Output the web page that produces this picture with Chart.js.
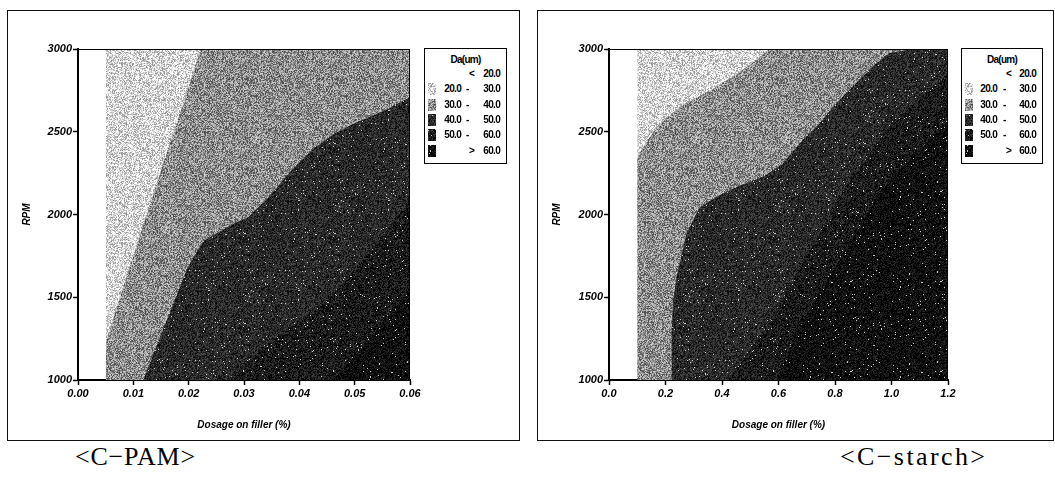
<!DOCTYPE html>
<html><head><meta charset="utf-8">
<script src="https://cdn.jsdelivr.net/npm/chart.js@4.4.0/dist/chart.umd.min.js"></script>
<style>
body{margin:0;width:1055px;height:489px;background:#fff;position:relative;overflow:hidden;font-family:"Liberation Sans",Arial,sans-serif}
.box{position:absolute;border:1.5px solid #111;box-sizing:border-box}
.cv{position:absolute}
.legend{position:absolute;border:1.5px solid #000;box-sizing:border-box;background:#fff;font:bold 10px "Liberation Sans",Arial,sans-serif;letter-spacing:-0.7px;color:#000}
.legend .hd{position:absolute;top:5px;left:0;width:100%;text-align:center}
.legend span{position:absolute;white-space:nowrap}
.legend canvas{position:absolute}
.cap{position:absolute;font:26px "Liberation Serif","DejaVu Serif",serif;color:#000;white-space:nowrap}
</style></head><body>

<div class="box" style="left:7px;top:10px;width:513px;height:431px"></div>
<div class="box" style="left:537px;top:10px;width:517px;height:431px"></div>
<canvas id="c1" class="cv" style="left:8px;top:11px" width="510" height="428"></canvas>
<canvas id="c2" class="cv" style="left:538px;top:11px" width="514" height="428"></canvas>
<div id="leg1" class="legend" style="left:424px;top:48px;width:83px;height:116px"></div>
<div id="leg2" class="legend" style="left:961px;top:48px;width:82px;height:116px"></div>
<div class="cap" style="left:75px;top:442px;letter-spacing:0.8px">&lt;C−PAM&gt;</div>
<div class="cap" style="left:840px;top:442px;letter-spacing:2.4px">&lt;C−starch&gt;</div>

<script>
// ---------- data ----------
const legendTitle = 'Da(um)';
const legendFrom = ['<', '20.0', '30.0', '40.0', '50.0', '>'];
const legendTo   = ['20.0', '30.0', '40.0', '50.0', '60.0', '60.0'];
// mean grey level of each class (0 = black, 255 = white)
const levelGrey = [255, 216, 140, 42, 25, 10];

const yTicks = [1000, 1500, 2000, 2500, 3000];
const yTickLabels = ['1000', '1500', '2000', '2500', '3000'];

// C-PAM
const pamXTicks = [0, 0.01, 0.02, 0.03, 0.04, 0.05, 0.06];
const pamXTickLabels = ['0.00', '0.01', '0.02', '0.03', '0.04', '0.05', '0.06'];
// contour region edges (each class fills the area right of / below its edge)
const pam20X = [0.005, 0.005, 0.06];
const pam20Y = [1000, 3000, 3000];
const pam30X = [0.005, 0.0051, 0.0074, 0.0113, 0.0133, 0.0146, 0.0186, 0.0222, 0.06];
const pam30Y = [1000, 1236, 1479, 1885, 2085, 2224, 2630, 3000, 3000];
const pam40X = [0.0118, 0.0162, 0.0198, 0.0227, 0.0282, 0.0307, 0.0344, 0.0386, 0.0422, 0.0464, 0.05, 0.0555, 0.06];
const pam40Y = [1000, 1376, 1679, 1842, 1945, 1982, 2103, 2267, 2388, 2491, 2552, 2630, 2709];
const pam50X = [0.027, 0.035, 0.045, 0.053, 0.06];
const pam50Y = [1000, 1236, 1479, 1782, 2085];
const pam60X = [0.046, 0.051, 0.057, 0.06];
const pam60Y = [1000, 1176, 1418, 1570];

// C-starch
const stXTicks = [0, 0.2, 0.4, 0.6, 0.8, 1.0, 1.2];
const stXTickLabels = ['0.0', '0.2', '0.4', '0.6', '0.8', '1.0', '1.2'];
const st20X = [0.1, 0.1, 1.2];
const st20Y = [1000, 3000, 3000];
const st30X = [0.1, 0.1, 0.121, 0.168, 0.25, 0.38, 0.474, 0.568, 1.2];
const st30Y = [1000, 2345, 2408, 2529, 2650, 2771, 2873, 3000, 3000];
const st40X = [0.221, 0.221, 0.227, 0.239, 0.274, 0.321, 0.38, 0.45, 0.544, 0.615, 0.685, 0.744, 0.815, 0.873, 0.932, 0.991, 1.073, 1.2];
const st40Y = [1000, 1277, 1479, 1620, 1883, 2044, 2105, 2166, 2226, 2307, 2448, 2549, 2691, 2792, 2893, 2974, 3000, 3000];
const st50X = [0.42, 0.55, 0.7, 0.85, 1.0, 1.2];
const st50Y = [1000, 1300, 1750, 2200, 2550, 2850];
const st60X = [0.592, 0.662, 0.752, 0.942, 1.016, 1.133, 1.2];
const st60Y = [1000, 1279, 1539, 2085, 2250, 2450, 2560];

// ---------- grain textures (deterministic hash) ----------
function makePattern(grey, seed) {
  const N = 90;
  const c = document.createElement('canvas'); c.width = c.height = N;
  const g = c.getContext('2d'); const img = g.createImageData(N, N);
  const amp = grey > 100 ? 70 : 36;
  for (let y = 0; y < N; y++) for (let x = 0; x < N; x++) {
    let h = Math.sin((x + seed) * 12.9898 + (y + seed * 3) * 78.233) * 43758.5453;
    h = h - Math.floor(h);
    let v = grey + (h - 0.5) * amp * 2;
    if (grey < 100 && h > 0.985) v = 200;
    v = Math.max(0, Math.min(255, v));
    const i = (y * N + x) * 4;
    img.data[i] = img.data[i + 1] = img.data[i + 2] = v; img.data[i + 3] = 255;
  }
  g.putImageData(img, 0, 0);
  return document.createElement('canvas').getContext('2d').createPattern(c, 'repeat');
}
const patterns = levelGrey.map((v, i) => v === 255 ? '#fff' : makePattern(v, i * 7 + 1));

function pts(xs, ys) { return xs.map((x, i) => ({x: x, y: ys[i]})); }

const tickFont = {family: '"Liberation Sans", Arial, sans-serif', size: 11, weight: 'bold', style: 'italic'};
const titleFont = {family: '"Liberation Sans", Arial, sans-serif', size: 10, weight: 'bold', style: 'italic'};

const borderPlugin = {
  id: 'plotBorder',
  afterDraw(chart) {
    const a = chart.chartArea, ctx = chart.ctx;
    ctx.save(); ctx.strokeStyle = '#000'; ctx.lineWidth = 1;
    ctx.beginPath();
    ctx.moveTo(a.left, a.top + 0.5); ctx.lineTo(a.right, a.top + 0.5);
    ctx.moveTo(a.right - 0.5, a.top); ctx.lineTo(a.right - 0.5, a.bottom);
    ctx.stroke(); ctx.restore();
  }
};

function makeChart(id, edges, xMax, xTicks, xLabels, yWidth, padRight) {
  const datasets = edges.map((e, k) => ({
    type: 'line', data: pts(e[0], e[1]), showLine: true, fill: 'start',
    backgroundColor: patterns[k + 1], borderWidth: 0, pointRadius: 0, tension: 0,
    order: 10 - k
  }));
  return new Chart(document.getElementById(id), {
    type: 'scatter',
    data: {datasets},
    options: {
      responsive: false, animation: false, devicePixelRatio: 1,
      layout: {padding: {left: 0, top: 38, right: padRight, bottom: 0}},
      plugins: {legend: {display: false}, tooltip: {enabled: false}},
      scales: {
        x: {
          type: 'linear', min: 0, max: xMax,
          afterBuildTicks: s => { s.ticks = xTicks.map(v => ({value: v})); },
          afterFit: s => { s.height = 59; },
          ticks: {font: tickFont, color: '#000', padding: 2, maxRotation: 0,
            callback: (v, i) => xLabels[i]},
          grid: {drawOnChartArea: false, drawTicks: true, tickLength: 5, color: '#000', tickWidth: 1.5},
          border: {display: true, color: '#000', width: 2},
          title: {display: true, text: 'Dosage on filler (%)', font: titleFont, color: '#000', padding: {top: 4, bottom: 8}}
        },
        y: {
          type: 'linear', min: 1000, max: 3000,
          afterBuildTicks: s => { s.ticks = yTicks.map(v => ({value: v})); },
          afterFit: s => { s.width = yWidth; },
          ticks: {font: tickFont, color: '#000', padding: 1,
            callback: (v, i) => yTickLabels[i]},
          grid: {drawOnChartArea: false, drawTicks: true, tickLength: 5, color: '#000', tickWidth: 1.5},
          border: {display: true, color: '#000', width: 2},
          title: {display: true, text: 'RPM', font: titleFont, color: '#000', padding: {top: 13, bottom: 4}}
        }
      }
    },
    plugins: [borderPlugin]
  });
}

makeChart('c1', [[pam20X, pam20Y], [pam30X, pam30Y], [pam40X, pam40Y], [pam50X, pam50Y], [pam60X, pam60Y]],
  0.06, pamXTicks, pamXTickLabels, 70, 108);
makeChart('c2', [[st20X, st20Y], [st30X, st30Y], [st40X, st40Y], [st50X, st50Y], [st60X, st60Y]],
  1.2, stXTicks, stXTickLabels, 71, 104);

// ---------- legends ----------
function buildLegend(id) {
  const el = document.getElementById(id);
  const hd = document.createElement('div'); hd.className = 'hd'; hd.textContent = legendTitle; el.appendChild(hd);
  legendFrom.forEach((f, i) => {
    const y = 19 + i * 15.3;
    if (i > 0) {
      const c = document.createElement('canvas'); c.width = 8; c.height = 12;
      c.style.left = '3px'; c.style.top = (y) + 'px';
      const g = c.getContext('2d'); g.fillStyle = patterns[i]; g.fillRect(0, 0, 8, 12);
      el.appendChild(c);
    }
    const a = document.createElement('span');
    a.textContent = f;
    if (f === '<' || f === '>') { a.style.left = '44px'; }
    else { a.style.right = '45px'; }
    a.style.top = y + 'px'; el.appendChild(a);
    if (f !== '<' && f !== '>') {
      const d = document.createElement('span'); d.textContent = '-'; d.style.left = '41px'; d.style.top = y + 'px'; el.appendChild(d);
    }
    const b = document.createElement('span'); b.textContent = legendTo[i]; b.style.right = '6px'; b.style.top = y + 'px'; el.appendChild(b);
  });
}
buildLegend('leg1'); buildLegend('leg2');
</script>
</body></html>
